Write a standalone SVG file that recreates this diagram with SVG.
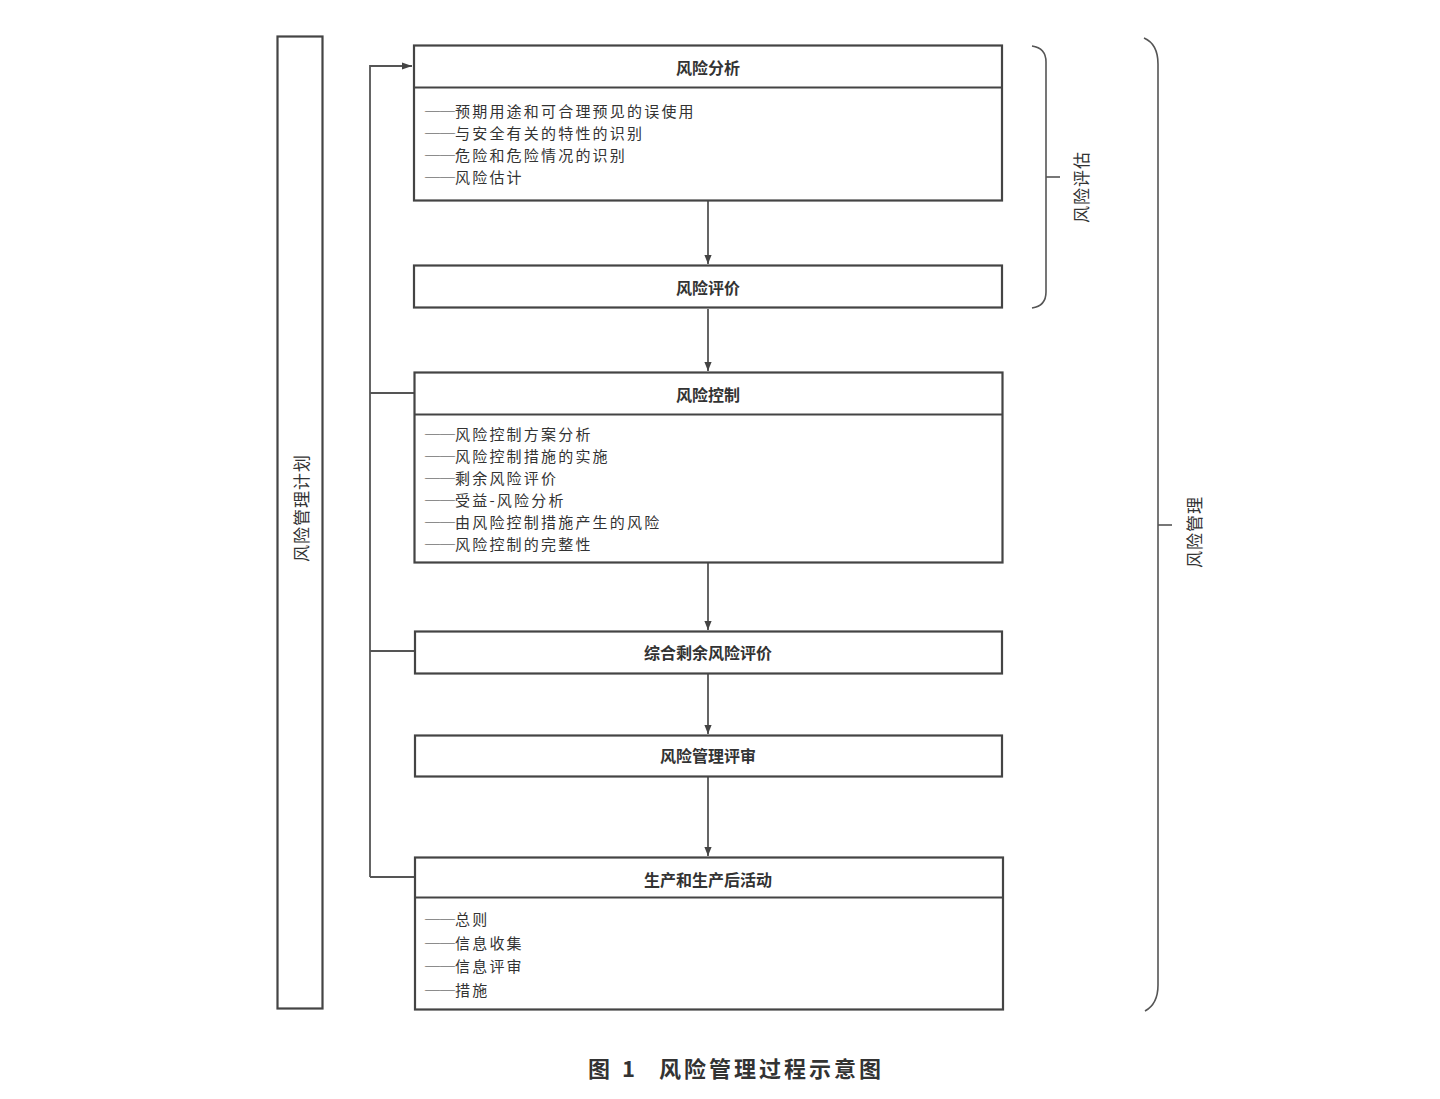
<svg xmlns="http://www.w3.org/2000/svg" width="1440" height="1099" viewBox="0 0 1440 1099">
<defs>
<style>
.box{fill:#fff;stroke:#444;stroke-width:2.2}
.ln{fill:none;stroke:#555;stroke-width:1.8}
.br{fill:none;stroke:#555;stroke-width:1.6}
text{font-family:"Noto Sans CJK SC","Noto Sans CJK JP",sans-serif;fill:#333}
.h{font-size:16px;font-weight:bold;text-anchor:middle;dominant-baseline:central}
.t{font-size:15px;letter-spacing:2.2px;dominant-baseline:central}
.d{font-family:"Liberation Serif",serif;letter-spacing:0}
.v{font-size:17px;letter-spacing:1px;text-anchor:middle;dominant-baseline:central}
.cap{font-size:22px;font-weight:bold;dominant-baseline:central;letter-spacing:3px}
</style>
<marker id="ah" viewBox="0 0 10 10" refX="10" refY="5" markerWidth="9" markerHeight="12" markerUnits="userSpaceOnUse" orient="auto">
<path d="M0,1 L10,5 L0,9 Z" fill="#444"/>
</marker>
<marker id="ah2" viewBox="0 0 10 10" refX="10" refY="5" markerWidth="14" markerHeight="10" markerUnits="userSpaceOnUse" orient="auto">
<path d="M0,1.5 L10,5 L0,8.5 Z" fill="#444"/>
</marker>
</defs>
<rect width="1440" height="1099" fill="#fff"/>

<g id="connectors">
<path class="ln" d="M370,877 L370,66 L412,66" marker-end="url(#ah2)"/>
<path class="ln" d="M370,393 L414,393"/>
<path class="ln" d="M370,651 L415,651"/>
<path class="ln" d="M370,877 L415,877"/>
<path class="ln" d="M708,201 L708,264" marker-end="url(#ah)"/>
<path class="ln" d="M708,309 L708,371" marker-end="url(#ah)"/>
<path class="ln" d="M708,563 L708,630" marker-end="url(#ah)"/>
<path class="ln" d="M708,674 L708,734" marker-end="url(#ah)"/>
<path class="ln" d="M708,777 L708,856" marker-end="url(#ah)"/>
</g>

<g id="plan">
<rect class="box" x="277.5" y="36.5" width="45" height="972"/>
<text class="v" transform="translate(300,508) rotate(-90)">风险管理计划</text>
</g>

<g id="analysis">
<rect class="box" x="414" y="45.5" width="588" height="155"/>
<line class="box" x1="414" y1="87.5" x2="1002" y2="87.5"/>
<text class="h" x="708" y="67">风险分析</text>
<text class="t" x="425" y="110"><tspan class="d">——</tspan>预期用途和可合理预见的误使用</text>
<text class="t" x="425" y="132"><tspan class="d">——</tspan>与安全有关的特性的识别</text>
<text class="t" x="425" y="154"><tspan class="d">——</tspan>危险和危险情况的识别</text>
<text class="t" x="425" y="176"><tspan class="d">——</tspan>风险估计</text>
</g>

<g id="evaluation">
<rect class="box" x="414" y="265.5" width="588" height="42"/>
<text class="h" x="708" y="287">风险评价</text>
</g>

<g id="control">
<rect class="box" x="414.5" y="372.5" width="588" height="190"/>
<line class="box" x1="414.5" y1="414.5" x2="1002.5" y2="414.5"/>
<text class="h" x="708" y="394">风险控制</text>
<text class="t" x="425" y="433"><tspan class="d">——</tspan>风险控制方案分析</text>
<text class="t" x="425" y="455"><tspan class="d">——</tspan>风险控制措施的实施</text>
<text class="t" x="425" y="477"><tspan class="d">——</tspan>剩余风险评价</text>
<text class="t" x="425" y="499"><tspan class="d">——</tspan>受益-风险分析</text>
<text class="t" x="425" y="521"><tspan class="d">——</tspan>由风险控制措施产生的风险</text>
<text class="t" x="425" y="543"><tspan class="d">——</tspan>风险控制的完整性</text>
</g>

<g id="overall">
<rect class="box" x="415" y="631.5" width="587" height="42"/>
<text class="h" x="708" y="652">综合剩余风险评价</text>
</g>

<g id="review">
<rect class="box" x="415" y="735.5" width="587" height="41"/>
<text class="h" x="708" y="755">风险管理评审</text>
</g>

<g id="production">
<rect class="box" x="415" y="857.5" width="588" height="152"/>
<line class="box" x1="415" y1="897.5" x2="1003" y2="897.5"/>
<text class="h" x="708" y="879">生产和生产后活动</text>
<text class="t" x="425" y="918"><tspan class="d">——</tspan>总则</text>
<text class="t" x="425" y="942"><tspan class="d">——</tspan>信息收集</text>
<text class="t" x="425" y="965"><tspan class="d">——</tspan>信息评审</text>
<text class="t" x="425" y="989"><tspan class="d">——</tspan>措施</text>
</g>

<g id="assessment-brace">
<path class="br" d="M1032,46 Q1046,48 1046,62 L1046,292 Q1046,306 1032,308"/>
<line class="br" x1="1046" y1="177" x2="1060" y2="177"/>
<text class="v" transform="translate(1080,187) rotate(-90)">风险评估</text>
</g>

<g id="management-brace">
<path class="br" d="M1144,38 Q1158,44 1158,64 L1158,985 Q1158,1004 1145,1011"/>
<line class="br" x1="1158" y1="525" x2="1172" y2="525"/>
<text class="v" transform="translate(1193,532) rotate(-90)">风险管理</text>
</g>

<g id="caption">
<text class="cap" x="588" y="1067">图</text>
<text class="cap" x="622" y="1067">1</text>
<text class="cap" x="659" y="1067">风险管理过程示意图</text>
</g>
</svg>
